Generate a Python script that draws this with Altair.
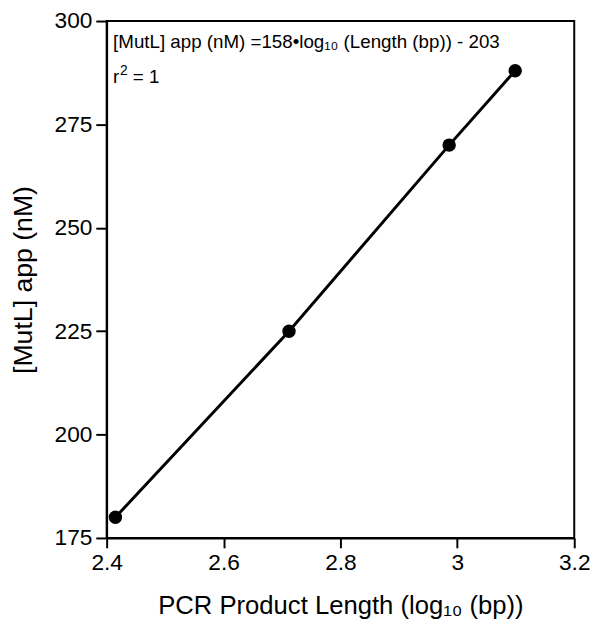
import altair as alt
import pandas as pd

# data
log_length = [2.415, 2.712, 2.986, 3.099]
mutl_app = [180, 225, 270, 288]

x_ticks = [2.4, 2.6, 2.8, 3.0, 3.2]
y_ticks = [175, 200, 225, 250, 275, 300]

eq_text = "[MutL] app (nM) =158•log₁₀ (Length (bp)) - 203"
eq_x = 2.411
eq_y = 295.0
r2_y = 286.4

df = pd.DataFrame({"x": log_length, "y": mutl_app})
ann = pd.DataFrame({"t": [eq_text], "x": [eq_x], "y": [eq_y]})
r2 = pd.DataFrame({"x": [eq_x], "y": [r2_y]})

FONT = "Liberation Sans"

xs = alt.Scale(domain=[2.4, 3.2], nice=False, zero=False)
ys = alt.Scale(domain=[175, 300], nice=False, zero=False)

x_enc = alt.X("x:Q", scale=xs, title="PCR Product Length (log₁₀ (bp))",
              axis=alt.Axis(values=x_ticks, format="~g", grid=False,
                            tickSize=10, tickWidth=2, domainWidth=2,
                            domainColor="black", tickColor="black",
                            labelFontSize=23, labelColor="black", labelFont=FONT,
                            labelPadding=4, titleFontSize=26, titleFont=FONT,
                            titleFontWeight="normal", titleColor="black",
                            titlePadding=19, labelFlush=False))
y_enc = alt.Y("y:Q", scale=ys, title="[MutL] app (nM)",
              axis=alt.Axis(values=y_ticks, grid=False,
                            tickSize=11, tickWidth=2, domainWidth=2,
                            domainColor="black", tickColor="black",
                            labelFontSize=23, labelColor="black", labelFont=FONT,
                            labelPadding=4, titleFontSize=27, titleFont=FONT,
                            titleFontWeight="normal", titleColor="black",
                            titlePadding=17, labelFlush=False))

line = alt.Chart(df).mark_line(color="black", strokeWidth=3).encode(x=x_enc, y=y_enc)
pts = alt.Chart(df).mark_point(filled=True, color="black", size=185, opacity=1).encode(x="x:Q", y="y:Q")
txt = alt.Chart(ann).mark_text(align="left", baseline="middle", fontSize=19,
                               font=FONT, color="black").encode(
    x="x:Q", y="y:Q", text="t:N")
r_txt = alt.Chart(r2).mark_text(align="left", baseline="middle", fontSize=19,
                                font=FONT, color="black", text="r").encode(x="x:Q", y="y:Q")
sup_txt = alt.Chart(r2).mark_text(align="left", baseline="middle", fontSize=14,
                                  font=FONT, color="black", text="2", dx=7, dy=-6).encode(x="x:Q", y="y:Q")
eq1_txt = alt.Chart(r2).mark_text(align="left", baseline="middle", fontSize=19,
                                  font=FONT, color="black", text="= 1", dx=20).encode(x="x:Q", y="y:Q")

chart = alt.layer(line, pts, txt, r_txt, sup_txt, eq1_txt).properties(
    width=474, height=524,
    autosize=alt.AutoSizeParams(type="none"),
    padding={"left": 100, "top": 9, "right": 18, "bottom": 83},
).configure_view(stroke="black", strokeWidth=2)

chart.save("out.html", embed_options={"renderer": "svg", "actions": False})
